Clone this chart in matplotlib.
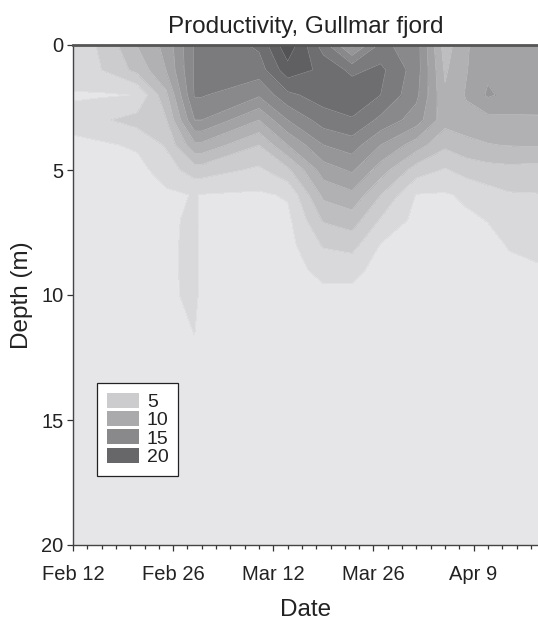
import matplotlib.pyplot as plt
import numpy as np
from matplotlib.patches import Patch

plt.rcParams['font.family'] = ['Liberation Sans', 'DejaVu Sans']

# sampling days (day of year) and depths (m)
days = [43, 47, 52, 56, 60, 61, 69, 73, 78, 82, 86, 91, 95, 98, 101, 104, 108]
depths = [0, 1, 2, 3, 4, 5, 6, 7, 8, 9, 10, 12, 15, 20]

# productivity profiles, one list per sampling day (top to bottom)
profiles = [
    [3.2, 3.1, 1.8, 2.6, 1.6, 1.2, 1.1, 1.0, 1.0, 1.0, 1.0, 1.0, 0.9, 0.8],
    [4.2, 4.0, 1.8, 3.7, 1.7, 1.2, 1.1, 1.0, 1.0, 1.0, 1.0, 1.0, 0.9, 0.8],
    [8.1, 6.6, 2.05, 4.8, 2.3, 1.3, 1.1, 1.0, 1.0, 1.0, 1.0, 1.0, 0.9, 0.8],
    [10.6, 10.0, 7.5, 5.8, 4.2, 3.0, 1.6, 1.2, 1.2, 1.2, 1.2, 1.1, 0.9, 0.8],
    [16.2, 16.3, 16.2, 14.0, 9.5, 5.0, 2.1, 2.8, 3.0, 3.0, 2.9, 1.8, 0.9, 0.8],
    [16.2, 16.3, 16.2, 14.0, 9.5, 5.0, 1.9, 1.2, 1.1, 1.1, 1.1, 1.0, 0.9, 0.8],
    [18.4, 17.0, 14.3, 10.0, 6.0, 3.6, 1.7, 1.3, 1.2, 1.1, 1.1, 1.0, 0.9, 0.8],
    [23.5, 21.2, 17.5, 14.0, 10.0, 5.5, 2.2, 1.5, 1.3, 1.2, 1.1, 1.0, 0.9, 0.8],
    [17.0, 19.5, 19.0, 17.0, 14.0, 11.0, 8.5, 6.2, 4.2, 2.6, 1.5, 1.2, 1.0, 0.8],
    [11.5, 17.5, 19.5, 17.8, 15.0, 12.3, 9.5, 7.0, 4.7, 2.6, 1.5, 1.2, 1.0, 0.8],
    [16.5, 18.5, 18.0, 15.5, 12.0, 9.0, 6.0, 3.8, 1.9, 1.3, 1.1, 1.0, 0.9, 0.8],
    [15.0, 15.0, 14.5, 13.0, 9.0, 5.0, 1.9, 1.4, 1.2, 1.1, 1.1, 1.0, 0.9, 0.8],
    [7.0, 7.7, 8.3, 8.8, 6.4, 3.8, 1.8, 1.4, 1.2, 1.1, 1.1, 1.0, 0.9, 0.8],
    [9.8, 9.9, 10.2, 9.3, 7.3, 4.8, 2.3, 1.7, 1.4, 1.2, 1.1, 1.0, 0.9, 0.8],
    [11.2, 11.6, 12.3, 9.3, 7.9, 5.2, 3.2, 2.05, 1.6, 1.4, 1.2, 1.1, 1.0, 0.8],
    [11.4, 11.5, 11.4, 9.6, 8.1, 5.4, 3.8, 3.0, 2.1, 1.7, 1.4, 1.2, 1.0, 0.8],
    [11.5, 11.5, 11.2, 9.7, 8.2, 5.2, 3.9, 3.2, 2.5, 1.8, 1.5, 1.2, 1.0, 0.8],
]

tick_days = [43, 57, 71, 85, 99]
tick_labels = ["Feb 12", "Feb 26", "Mar 12", "Mar 26", "Apr 9"]
legend_values = [5, 10, 15, 20]
levels = np.arange(0, 26, 2)


def gray(v):
    g = (237 - 6.7 * v) / 255
    return (g, g, min(g + 2 / 255, 1))


band_colors = [gray((a + b) / 2) for a, b in zip(levels[:-1], levels[1:])]
Z = np.array(profiles).T

fig = plt.figure(figsize=(5.38, 6.25), dpi=100)
ax = fig.add_axes([73 / 538, 80 / 625, 465 / 538, 500 / 625])

ax.contourf(days, depths, Z, levels=levels, colors=band_colors)
ax.contour(days, depths, Z, levels=levels[1:], colors='white',
           linewidths=0.4, alpha=0.35)

ax.set_xlim(43, 108)
ax.set_ylim(20, 0)
ax.set_xticks(tick_days)
ax.set_xticklabels(tick_labels)
ax.set_xticks(np.arange(45, 108, 2), minor=True)
ax.set_yticks([0, 5, 10, 15, 20])

ax.tick_params(axis='both', which='major', labelsize=14.5, colors='#333333',
               labelcolor='#222222', direction='out', width=0.9)
ax.tick_params(axis='x', which='major', length=4.5, pad=10)
ax.tick_params(axis='x', which='minor', length=3, width=0.9, color='#333333')
ax.tick_params(axis='y', which='major', length=4, pad=3)

for side in ['left', 'bottom']:
    ax.spines[side].set_color('#444444')
    ax.spines[side].set_linewidth(1.0)
ax.spines['top'].set_color('#555555')
ax.spines['top'].set_linewidth(2.0)
ax.spines['right'].set_visible(False)

ax.set_title("Productivity, Gullmar fjord", fontsize=17.5, color='#222222', pad=9)
ax.set_xlabel("Date", fontsize=17.5, color='#222222', labelpad=11)
ax.set_ylabel("Depth (m)", fontsize=17.5, color='#222222', labelpad=6)

handles = [Patch(facecolor=gray(v), edgecolor='none') for v in legend_values]
leg = ax.legend(handles, [str(v) for v in legend_values], loc='upper left',
                bbox_to_anchor=(0.052, 0.324), fontsize=14, frameon=True,
                fancybox=False, framealpha=1, edgecolor='#222222',
                handlelength=1.65, handleheight=0.82, labelspacing=0.0,
                handletextpad=0.4, borderpad=0.5, borderaxespad=0)
leg.get_frame().set_linewidth(0.9)
for t in leg.get_texts():
    t.set_color('#222222')

fig.savefig("out.png", dpi=100)
